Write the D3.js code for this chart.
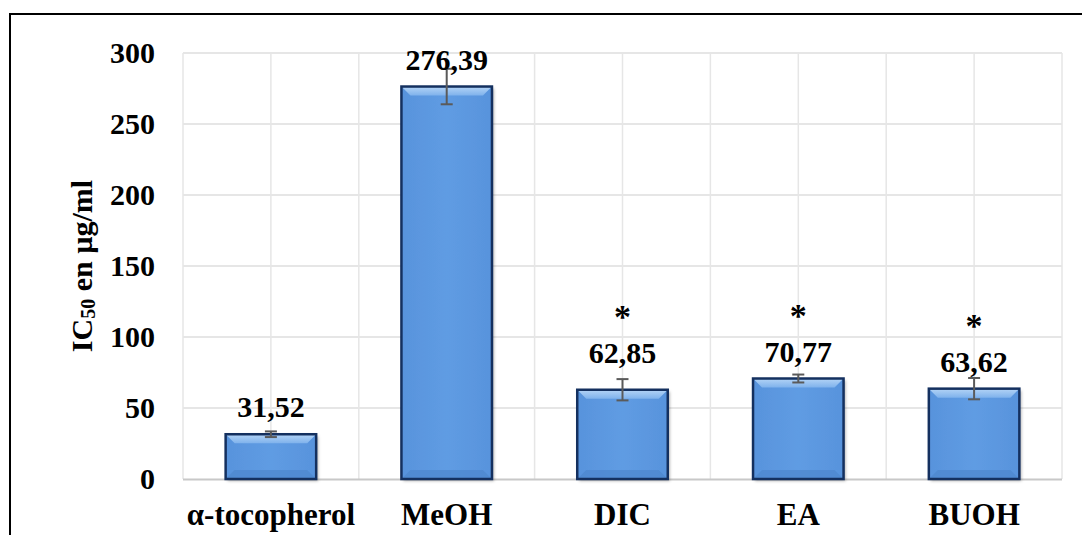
<!DOCTYPE html>
<html>
<head>
<meta charset="utf-8">
<script src="https://cdn.jsdelivr.net/npm/d3@7"></script>
<style>
  body { margin: 0; background: #fff; }
  svg { display: block; }
  svg text { font-family: 'Liberation Serif', 'Times New Roman', Times, 'DejaVu Serif', serif !important; font-weight: bold; }
</style>
</head>
<body>
<svg id="chart" width="1082" height="535"></svg>
<script>
// data
const categories = ['α-tocopherol', 'MeOH', 'DIC', 'EA', 'BUOH'];
const ic50 = [31.52, 276.39, 62.85, 70.77, 63.62];
const errors = [2.0, 12.5, 7.5, 2.8, 7.5];
const significant = [false, false, true, true, true];
const yTicks = [0, 50, 100, 150, 200, 250, 300];

// label nudges (px, extra lift above default)
const labelLift = [0, 0, 10, 0, 0];

const svg = d3.select('#chart');
const margin = { top: 53, right: 20, bottom: 56, left: 183 };
const width = 1062 - margin.left;
const height = 479 - margin.top;

// outer frame (cropped at right and bottom like the source)
svg.append('rect')
  .attr('x', 10).attr('y', 14)
  .attr('width', 1100).attr('height', 600)
  .attr('fill', 'none').attr('stroke', '#000').attr('stroke-width', 2);

const defs = svg.append('defs');
const gTop = defs.append('linearGradient').attr('id', 'bevelTop')
  .attr('x1', 0).attr('y1', 0).attr('x2', 0).attr('y2', 1);
gTop.append('stop').attr('offset', '0%').attr('stop-color', '#b4d4f6');
gTop.append('stop').attr('offset', '100%').attr('stop-color', '#7fb2ec');
const gBody = defs.append('linearGradient').attr('id', 'barBody')
  .attr('x1', 0).attr('y1', 0).attr('x2', 1).attr('y2', 0);
gBody.append('stop').attr('offset', '0%').attr('stop-color', '#5893dc');
gBody.append('stop').attr('offset', '50%').attr('stop-color', '#5f9ce3');
gBody.append('stop').attr('offset', '100%').attr('stop-color', '#5893dc');
const shadow = defs.append('filter').attr('id', 'shadow')
  .attr('x', '-10%').attr('y', '-10%').attr('width', '130%').attr('height', '130%');
shadow.append('feDropShadow').attr('dx', 2).attr('dy', 2).attr('stdDeviation', 1.5)
  .attr('flood-color', '#000').attr('flood-opacity', 0.3);

const plot = svg.append('g').attr('transform', `translate(${margin.left},${margin.top})`);

const x = d3.scaleBand().domain(categories).range([0, width]).paddingInner(0.485).paddingOuter(0.2425);
const y = d3.scaleLinear().domain([0, 300]).range([height, 0]);
const band = width / categories.length;

// grid
plot.append('g').selectAll('line.h')
  .data(yTicks.filter(t => t > 0))
  .enter().append('line')
  .attr('x1', 0).attr('x2', width)
  .attr('y1', d => y(d)).attr('y2', d => y(d))
  .attr('stroke', '#dedede').attr('stroke-width', 1.5);

plot.append('g').selectAll('line.v')
  .data(d3.range(0, categories.length * 2 + 1))
  .enter().append('line')
  .attr('x1', i => i * band / 2).attr('x2', i => i * band / 2)
  .attr('y1', 0).attr('y2', height)
  .attr('stroke', '#e6e6e6').attr('stroke-width', 1.5);

// y axis labels
const yAxis = plot.append('g')
  .call(d3.axisLeft(y).tickValues(yTicks).tickSize(0).tickPadding(28));
yAxis.attr('font-family', null);
yAxis.select('.domain').remove();
yAxis.selectAll('text')
  .attr('font-size', 30)
  .attr('fill', '#000');

// x axis line + labels
plot.append('line')
  .attr('x1', 0).attr('x2', width)
  .attr('y1', height + 0.5).attr('y2', height + 0.5)
  .attr('stroke', '#c8c8c8').attr('stroke-width', 2);

const xAxis = plot.append('g')
  .attr('transform', `translate(0,${height})`)
  .call(d3.axisBottom(x).tickSize(0).tickPadding(24));
xAxis.attr('font-family', null);
xAxis.select('.domain').remove();
xAxis.selectAll('text')
  .attr('font-size', 31)
  .attr('fill', '#000');

// bars with bevel
const b = 9;
const bars = plot.append('g').selectAll('g.bar')
  .data(categories.map((c, i) => ({ c, v: ic50[i], e: errors[i], s: significant[i], lift: labelLift[i] })))
  .enter().append('g').attr('class', 'bar');

bars.append('rect')
  .attr('x', d => x(d.c)).attr('y', d => y(d.v))
  .attr('width', x.bandwidth()).attr('height', d => height - y(d.v))
  .attr('fill', 'url(#barBody)')
  .attr('filter', 'url(#shadow)');

bars.append('path')
  .attr('d', (d) => {
    const x0 = x(d.c), x1 = x0 + x.bandwidth(), y0 = y(d.v);
    return `M${x0},${y0}L${x1},${y0}L${x1 - b},${y0 + b}L${x0 + b},${y0 + b}Z`;
  })
  .attr('fill', 'url(#bevelTop)');

bars.append('path')
  .attr('d', (d) => {
    const x0 = x(d.c), x1 = x0 + x.bandwidth(), y1 = height;
    return `M${x0},${y1}L${x1},${y1}L${x1 - b},${y1 - b}L${x0 + b},${y1 - b}Z`;
  })
  .attr('fill', '#4f88cf').attr('opacity', 0.8);

bars.append('rect')
  .attr('x', d => x(d.c)).attr('y', d => y(d.v))
  .attr('width', x.bandwidth()).attr('height', d => height - y(d.v))
  .attr('fill', 'none')
  .attr('stroke', '#14305f').attr('stroke-width', 2.5);

// error bars
const cap = 6;
bars.append('line')
  .attr('x1', d => x(d.c) + x.bandwidth() / 2).attr('x2', d => x(d.c) + x.bandwidth() / 2)
  .attr('y1', d => y(d.v + d.e)).attr('y2', d => y(d.v - d.e))
  .attr('stroke', '#5a5a5a').attr('stroke-width', 2);
bars.selectAll('line.cap')
  .data(d => [{ d, val: d.v + d.e }, { d, val: d.v - d.e }])
  .enter().append('line').attr('class', 'cap')
  .attr('x1', o => x(o.d.c) + x.bandwidth() / 2 - cap)
  .attr('x2', o => x(o.d.c) + x.bandwidth() / 2 + cap)
  .attr('y1', o => y(o.val)).attr('y2', o => y(o.val))
  .attr('stroke', '#5a5a5a').attr('stroke-width', 2);

// value labels
const fmt = v => d3.format('.2f')(v).replace('.', ',');
bars.append('text')
  .attr('x', d => x(d.c) + x.bandwidth() / 2)
  .attr('y', d => y(d.v) - 17 - d.lift)
  .attr('text-anchor', 'middle')
  .attr('font-size', 30)
  .text(d => fmt(d.v));

// significance stars, kept clear of the value label box
bars.filter(d => d.s).append('text')
  .attr('x', d => x(d.c) + x.bandwidth() / 2)
  .attr('y', d => y(d.v) - 17 - d.lift - 35)
  .attr('text-anchor', 'middle')
  .attr('font-size', 34)
  .text('*');

// y axis title
svg.append('text')
  .attr('transform', 'translate(92,266) rotate(-90)')
  .attr('text-anchor', 'middle')
  .attr('font-size', 30)
  .call((t) => {
    t.append('tspan').text('IC');
    t.append('tspan').attr('font-size', 20).attr('dy', 3).text('50');
    t.append('tspan').attr('dy', -3).text(' en µg/ml');
  });
</script>
</body>
</html>
